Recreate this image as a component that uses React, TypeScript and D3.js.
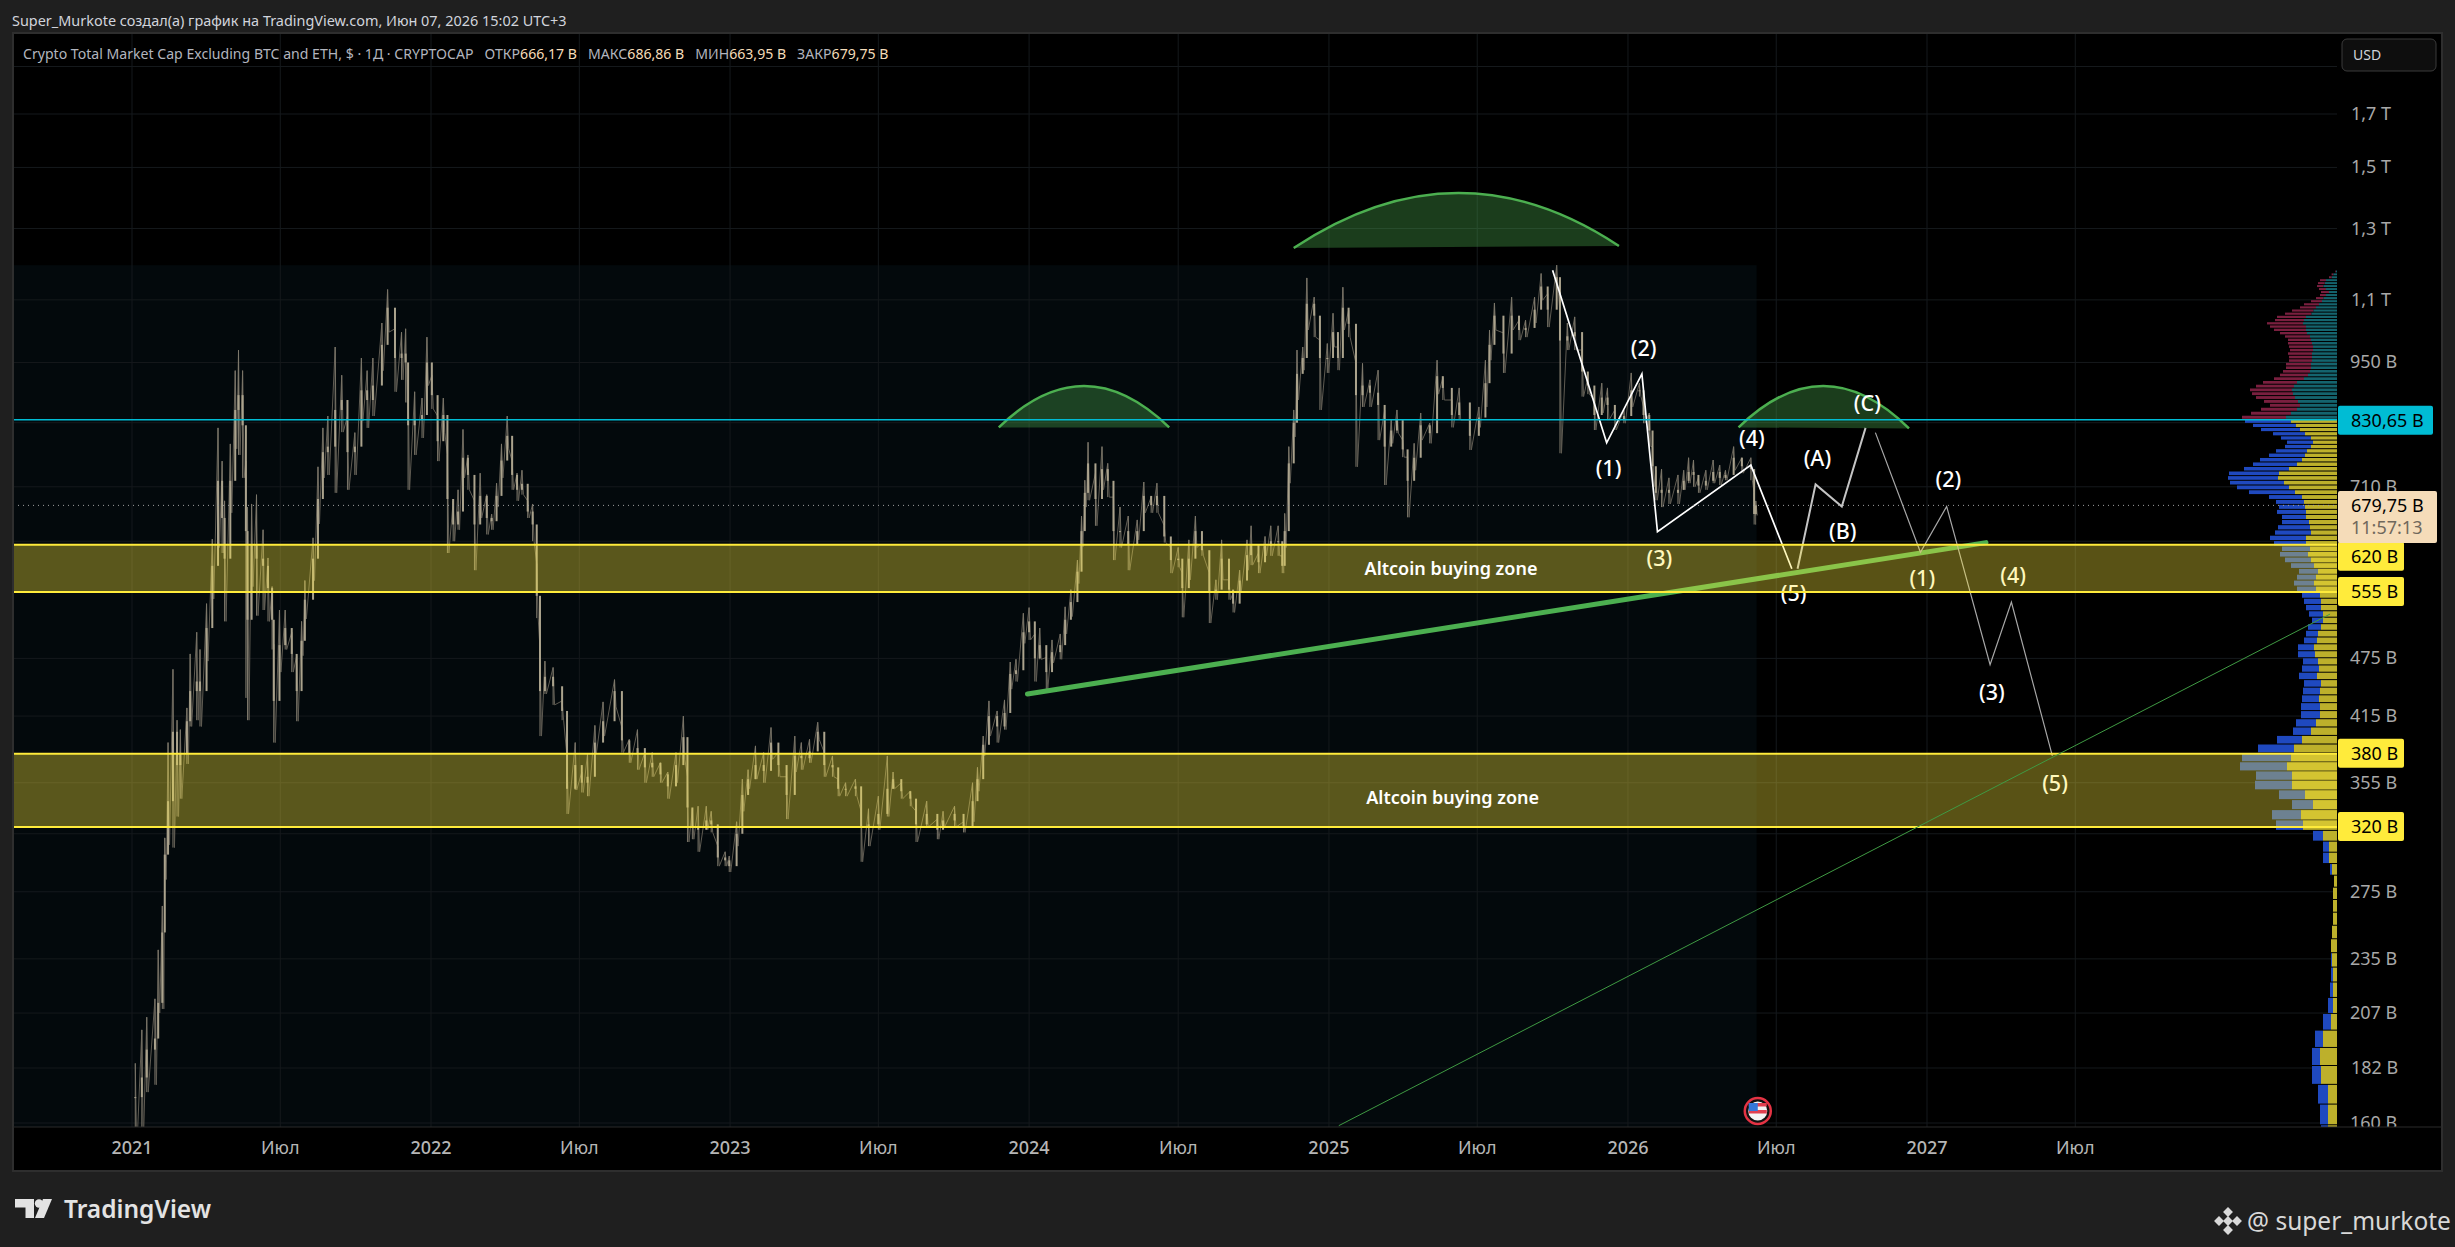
import React, { useEffect, useRef } from "react";
import * as d3 from "d3";

const WIDTH = 2455;
const HEIGHT = 1247;

// price scale (log) and time scale calibration
const priceDomain = [160, 1700];
const timeDomain = ["2021-01-01", "2027-01-01"];
const lastBarDay = 1982;

const priceTicks = [1700, 1500, 1300, 1100, 950, 710, 475, 415, 355, 275, 235, 207, 182, 160];
const hiddenGridPrices = [1900, 825, 625, 315];
const timeTickDates = ["2021-01-01", "2021-07-01", "2022-01-01", "2022-07-01", "2023-01-01", "2023-07-01", "2024-01-01", "2024-07-01", "2025-01-01", "2025-07-01", "2026-01-01", "2026-07-01", "2027-01-01", "2027-07-01"];
const timeTickLabels = ["2021", "Июл", "2022", "Июл", "2023", "Июл", "2024", "Июл", "2025", "Июл", "2026", "Июл", "2027", "Июл"];

// bars: days since 2021-01-01
const barDays = [
  4, 12, 18, 28, 32, 37, 40, 44, 50, 55,
  59, 67, 71, 79, 83, 91, 98, 105, 110, 113,
  120, 126, 130, 135, 139, 141, 146, 152, 160, 166,
  171, 173, 180, 187, 195, 201, 207, 211, 221, 227,
  233, 239, 248, 256, 263, 272, 280, 287, 294, 305,
  312, 321, 329, 334, 337, 345, 354, 360, 366, 373,
  380, 385, 392, 398, 404, 410, 418, 425, 433, 439,
  445, 451, 458, 464, 470, 476, 483, 489, 494, 498,
  504, 514, 525, 531, 541, 549, 556, 565, 575, 589,
  598, 607, 617, 626, 635, 645, 654, 664, 673, 678,
  684, 691, 701, 707, 715, 724, 729, 738, 745, 752,
  761, 771, 780, 789, 799, 809, 817, 827, 837, 845,
  855, 862, 871, 883, 890, 899, 911, 922, 929, 939,
  950, 957, 970, 983, 990, 1004, 1015, 1026, 1032, 1039,
  1046, 1056, 1065, 1072, 1079, 1088, 1095, 1102, 1108, 1116,
  1123, 1133, 1139, 1146, 1154, 1159, 1163, 1167, 1176, 1184,
  1191, 1198, 1206, 1216, 1227, 1235, 1244, 1251, 1260, 1268,
  1277, 1282, 1290, 1298, 1306, 1315, 1323, 1330, 1339, 1344,
  1352, 1361, 1366, 1375, 1383, 1390, 1399, 1404, 1407, 1412,
  1418, 1422, 1429, 1434, 1443, 1450, 1459, 1466, 1472, 1478,
  1485, 1494, 1502, 1511, 1521, 1529, 1537, 1544, 1551, 1557,
  1565, 1573, 1584, 1593, 1600, 1611, 1620, 1633, 1644, 1652,
  1657, 1663, 1674, 1684, 1693, 1701, 1712, 1720, 1728, 1739,
  1743, 1752, 1761, 1770, 1777, 1785, 1794, 1801, 1810, 1821,
  1830, 1840, 1845, 1852, 1856, 1860, 1867, 1876, 1887, 1894,
  1900, 1906, 1912, 1921, 1930, 1938, 1945, 1955, 1965, 1976,
  1980, 1982,
];
const barHighs = [
  184, 199, 205, 214, 240, 266, 312, 390, 463, 411,
  402, 423, 480, 505, 485, 540, 628, 815, 754, 687,
  785, 932, 978, 932, 754, 677, 682, 697, 642, 601,
  562, 491, 532, 532, 505, 478, 518, 570, 630, 744,
  815, 838, 985, 922, 838, 806, 960, 932, 960, 1042,
  1127, 1028, 1020, 1028, 912, 887, 874, 1008, 922, 838,
  874, 765, 687, 705, 812, 765, 687, 733, 697, 666,
  716, 785, 838, 754, 733, 738, 687, 682, 593, 485,
  472, 465, 430, 377, 390, 364, 380, 406, 429, 452,
  404, 393, 402, 381, 381, 372, 364, 381, 415, 360,
  334, 336, 336, 332, 306, 302, 299, 324, 358, 366,
  387, 381, 404, 381, 360, 396, 390, 393, 409, 381,
  378, 358, 355, 358, 332, 334, 344, 378, 364, 355,
  348, 332, 340, 326, 332, 336, 324, 355, 368, 396,
  430, 420, 431, 471, 474, 528, 535, 503, 510, 476,
  496, 503, 536, 558, 598, 663, 721, 788, 733, 780,
  750, 693, 677, 663, 657, 718, 693, 716, 648, 616,
  616, 580, 627, 663, 622, 580, 571, 627, 571, 554,
  584, 627, 648, 608, 632, 648, 648, 604, 667, 780,
  850, 978, 985, 1158, 1107, 1001, 993, 1066, 985, 1133,
  1074, 948, 948, 912, 933, 850, 830, 850, 792, 761,
  786, 844, 824, 955, 917, 870, 895, 830, 856, 955,
  1025, 1092, 1018, 1107, 1049, 1049, 1107, 1170, 1116, 1193,
  1066, 1042, 1057, 978, 917, 870, 905, 895, 850, 850,
  927, 905, 856, 844, 780, 738, 740, 725, 730, 738,
  760, 756, 725, 738, 756, 747, 738, 780, 760, 760,
  700, 686.86,
];
const barLows = [
  150, 152, 172, 175, 207, 209, 283, 307, 305, 328,
  342, 371, 405, 411, 405, 472, 546, 616, 608, 518,
  668, 776, 765, 725, 433, 411, 562, 525, 532, 518,
  485, 390, 460, 485, 460, 410, 478, 521, 570, 651,
  725, 730, 700, 807, 705, 730, 828, 815, 838, 932,
  1020, 887, 912, 865, 705, 765, 796, 900, 852, 754,
  806, 608, 625, 642, 725, 705, 584, 660, 635, 642,
  677, 725, 776, 705, 687, 697, 660, 625, 522, 396,
  437, 426, 411, 330, 349, 347, 344, 380, 396, 424,
  381, 372, 366, 355, 360, 355, 342, 355, 375, 309,
  311, 302, 318, 316, 292, 292, 288, 306, 332, 350,
  358, 355, 375, 360, 326, 364, 366, 372, 393, 360,
  360, 344, 344, 344, 295, 306, 318, 328, 350, 342,
  336, 309, 320, 311, 320, 320, 316, 324, 348, 378,
  396, 390, 402, 442, 450, 492, 496, 450, 474, 442,
  470, 474, 503, 524, 566, 617, 677, 688, 648, 705,
  693, 598, 616, 584, 627, 668, 668, 668, 623, 580,
  588, 523, 571, 616, 604, 516, 545, 571, 545, 529,
  554, 584, 591, 580, 604, 604, 604, 580, 616, 716,
  798, 870, 933, 1025, 1008, 850, 927, 985, 933, 1025,
  1008, 744, 856, 856, 792, 713, 786, 805, 761, 661,
  738, 792, 786, 882, 870, 816, 830, 774, 816, 856,
  955, 1025, 927, 1025, 1001, 1008, 1042, 1099, 1032, 1125,
  768, 978, 978, 877, 882, 811, 844, 830, 811, 824,
  856, 877, 824, 780, 710, 688, 677, 682, 682, 705,
  716, 710, 700, 705, 716, 713, 721, 738, 733, 721,
  650, 663.95,
];
const barCloses = [
  170, 178, 190, 195, 212, 250, 300, 340, 400, 370,
  380, 410, 440, 450, 440, 510, 590, 720, 660, 600,
  720, 850, 880, 820, 640, 520, 620, 600, 590, 560,
  520, 430, 490, 510, 480, 440, 495, 545, 600, 690,
  770, 780, 850, 870, 770, 780, 890, 870, 900, 990,
  1080, 960, 970, 950, 820, 830, 840, 950, 880, 790,
  840, 690, 650, 670, 760, 730, 650, 695, 660, 655,
  695, 755, 800, 730, 705, 715, 670, 650, 550, 440,
  455, 445, 420, 350, 370, 355, 360, 390, 410, 440,
  392, 380, 385, 368, 372, 362, 352, 370, 395, 335,
  320, 318, 325, 322, 298, 296, 292, 315, 345, 358,
  370, 365, 390, 370, 345, 378, 376, 382, 400, 370,
  368, 350, 350, 352, 320, 322, 330, 350, 358, 348,
  342, 322, 330, 318, 325, 330, 320, 340, 358, 388,
  415, 405, 418, 458, 462, 505, 518, 475, 490, 460,
  482, 490, 520, 542, 582, 640, 700, 750, 690, 740,
  720, 640, 640, 620, 640, 695, 680, 695, 632, 598,
  600, 560, 600, 640, 612, 555, 558, 600, 558, 540,
  570, 605, 620, 595, 618, 625, 625, 590, 640, 750,
  825, 925, 960, 1090, 1060, 960, 960, 1020, 960, 1080,
  1040, 880, 900, 885, 860, 780, 810, 830, 775, 720,
  760, 820, 805, 920, 895, 840, 865, 800, 835, 905,
  990, 1060, 970, 1060, 1025, 1030, 1075, 1135, 1075, 1160,
  1000, 1010, 1020, 930, 900, 840, 875, 860, 830, 838,
  890, 890, 840, 810, 745, 700, 705, 700, 705, 720,
  735, 730, 712, 720, 735, 725, 730, 760, 745, 740,
  666.17, 679.75,
];

const vpRowStep = 7.9;
const vpSplitPrice = 830.65;
const vpUpperRows = 44;
const vpUp = [
  1, 3.7, 5.3, 11, 12.3, 13.7, 11, 8, 11, 13.7, 15, 18, 21, 23.7, 25.7, 31, 33, 34, 31, 31, 30, 27,
  26, 25, 24, 24, 25, 25, 25, 26, 26, 27, 29, 33, 40, 43, 45, 44, 42, 39, 37, 40, 46, 51,
  46, 41, 37, 32, 26, 24, 26, 30, 32, 35, 40, 48, 58, 59, 53, 48, 42, 35, 33, 32, 31, 31, 28, 27, 26, 31, 31,
  27, 29, 26, 23, 19, 21, 23, 21,
  17, 16, 16, 14, 14, 16, 19, 20, 23, 22, 19, 18, 20, 16, 17, 18, 17, 17, 21, 26, 35, 43,
  46, 50, 45, 45, 32, 24, 36, 34,
  14, 8, 8, 5, 3, 4, 4, 4, 5, 6, 5, 4, 4, 4, 6, 14, 17, 16, 9, 9, 9,
];
const vpDown = [
  0.7, 1.7, 2.7, 6, 6.7, 6.3, 7, 8, 6, 7.3, 11, 15, 16, 21.3, 26.3, 29, 29, 36, 36, 32, 27, 25,
  23, 24, 24, 23, 24, 23, 23, 25, 25, 27, 28, 30, 34, 38, 42, 41, 39, 34, 30, 36, 40, 44,
  46, 43, 39, 32, 30, 26, 26, 31, 36, 42, 44, 45, 50, 50, 54, 52, 46, 33, 28, 26, 29, 24, 27, 32, 36, 36, 32,
  28, 28, 26, 23, 19, 19, 20, 19,
  18, 17, 15, 14, 11, 13, 12, 13, 16, 17, 15, 17, 18, 17, 17, 17, 19, 19, 20, 18, 25, 36,
  49, 47, 36, 37, 26, 21, 29, 27,
  10, 6, 6, 2, 0, 0, 0, 0, 0, 0, 1, 2, 3, 5, 8, 8, 8, 9, 10, 8, 7,
];

// drawings, day offsets and prices
const zoneTops = [620, 380];
const zoneBottoms = [555, 320];
const zoneLabelDays = [1610, 1612];
const zoneLabelPrices = [587, 343];
const shadeEndDay = 1983;
const shadeTopPrice = 1193;
const levelPrice = 830.65;
const lastPrice = 679.75;

const arcStartDays = [1058, 1418, 1961];
const arcEndDays = [1266, 1815, 2169];
const arcPeakDays = [1162, 1618, 2065];
const arcStartPrices = [816, 1242, 816];
const arcEndPrices = [816, 1248, 814];
const arcPeakPrices = [899, 1413, 899];

const trendDays = [1093, 2263];
const trendPrices = [437, 623];
const longTrendDays = [1473, 2683];
const longTrendPrices = [159, 527];

const waveOneDays = [1734, 1800, 1843, 1862, 1976, 2026];
const waveOnePrices = [1179, 787, 925, 639, 747, 586];
const waveTwoDays = [2033, 2055, 2087, 2116];
const waveTwoPrices = [586, 714, 678, 815];
const waveThreeDays = [2128, 2183, 2215, 2268, 2294, 2344];
const waveThreePrices = [806, 609, 678, 468, 542, 378];

const waveLabels = ["(1)", "(2)", "(3)", "(4)", "(5)", "(A)", "(B)", "(C)", "(1)", "(2)", "(3)", "(4)", "(5)"];
const waveLabelDays = [1801, 1844, 1863, 1976, 2027, 2056, 2087, 2117, 2184, 2216, 2269, 2295, 2346];
const waveLabelPrices = [738, 978, 598, 792, 551, 756, 637, 860, 571, 719, 437, 575, 353];

const priceTags = [
  { price: 620, label: "620 B", shift: 12 },
  { price: 555, label: "555 B", shift: 0 },
  { price: 380, label: "380 B", shift: 0 },
  { price: 320, label: "320 B", shift: 0 },
];

const legendParts = [
  { text: "ОТКР", value: "666,17 B" },
  { text: "МАКС", value: "686,86 B" },
  { text: "МИН", value: "663,95 B" },
  { text: "ЗАКР", value: "679,75 B" },
];

const FONT = "'Noto Sans', sans-serif";

const priceLabel = (v: number) =>
  v >= 1000 ? `${(v / 1000).toFixed(1).replace(".", ",")} T` : `${v} B`;

const App: React.FC = () => {
  const svgRef = useRef<SVGSVGElement | null>(null);

  useEffect(() => {
    if (!svgRef.current) return;
    const root = d3.select(svgRef.current);
    root.selectAll("*").remove();

    const frame = { left: 13, top: 33, right: 2442, bottom: 1171 };
    const paneRight = 2337;
    const paneBottom = 1127;

    const x = d3
      .scaleTime()
      .domain(timeDomain.map(d => new Date(d + "T00:00:00")))
      .range([132, 1927]);
    const y = d3.scaleLog().domain(priceDomain).range([1123, 114]);
    const start = new Date(timeDomain[0] + "T00:00:00");
    const xd = (day: number) => x(d3.timeDay.offset(start, day));

    root.append("rect").attr("width", WIDTH).attr("height", HEIGHT).attr("fill", "#1f1f1f");
    root
      .append("rect")
      .attr("x", frame.left)
      .attr("y", frame.top)
      .attr("width", frame.right - frame.left)
      .attr("height", frame.bottom - frame.top)
      .attr("fill", "#000")
      .attr("stroke", "#2e2e2e")
      .attr("stroke-width", 2);

    root
      .append("defs")
      .append("clipPath")
      .attr("id", "pane")
      .append("rect")
      .attr("x", frame.left + 1)
      .attr("y", frame.top + 1)
      .attr("width", paneRight - frame.left - 1)
      .attr("height", paneBottom - frame.top - 1);

    const pane = root.append("g").attr("clip-path", "url(#pane)");

    // shaded history block
    pane
      .append("rect")
      .attr("x", frame.left)
      .attr("y", y(shadeTopPrice))
      .attr("width", xd(shadeEndDay) - frame.left)
      .attr("height", paneBottom - y(shadeTopPrice))
      .attr("fill", "#03090c");

    // grid
    pane
      .selectAll("line.h")
      .data([...priceTicks, ...hiddenGridPrices])
      .join("line")
      .attr("x1", frame.left)
      .attr("x2", paneRight)
      .attr("y1", d => y(d))
      .attr("y2", d => y(d))
      .attr("stroke", "#15191c")
      .attr("stroke-width", 1);
    pane
      .selectAll("line.v")
      .data(timeTickDates)
      .join("line")
      .attr("x1", d => x(new Date(d + "T00:00:00")))
      .attr("x2", d => x(new Date(d + "T00:00:00")))
      .attr("y1", frame.top)
      .attr("y2", paneBottom)
      .attr("stroke", "#15191c")
      .attr("stroke-width", 1);

    // volume profile
    const vpWidth = d3.scaleLinear().domain([0, 110]).range([0, 110]);
    const vpTop = vpSplitPrice + vpUpperRows * vpRowStep;
    const rowTop = (i: number) => y(vpTop - i * vpRowStep);
    const rowH = (i: number) => Math.max(1.6, rowTop(i + 1) - rowTop(i) - 1);
    const profile = pane.append("g");
    vpUp.forEach((up, i) => {
      const upper = i < vpUpperRows;
      profile
        .append("rect")
        .attr("x", paneRight - vpWidth(up))
        .attr("y", rowTop(i))
        .attr("width", vpWidth(up))
        .attr("height", rowH(i))
        .attr("fill", upper ? "#14646e" : "#bdb02b");
      profile
        .append("rect")
        .attr("x", paneRight - vpWidth(up) - vpWidth(vpDown[i]))
        .attr("y", rowTop(i))
        .attr("width", vpWidth(vpDown[i]))
        .attr("height", rowH(i))
        .attr("fill", upper ? "#7a1f3f" : "#1f49bf");
    });

    // candles, thin zigzag for the wick noise then wicks and bodies
    const candles = pane.append("g");
    const zig: [number, number][] = [];
    barDays.forEach((d, i) => {
      zig.push([xd(d), y(barHighs[i])]);
      zig.push([xd(d) + 1.5, y(barLows[i])]);
    });
    candles
      .append("path")
      .attr("d", d3.line()(zig) as string)
      .attr("fill", "none")
      .attr("stroke", "#5f5b52")
      .attr("stroke-width", 1);
    candles
      .selectAll("line")
      .data(barDays)
      .join("line")
      .attr("x1", d => xd(d))
      .attr("x2", d => xd(d))
      .attr("y1", (_, i) => y(barHighs[i]))
      .attr("y2", (_, i) => y(barLows[i]))
      .attr("stroke", "#7d786b")
      .attr("stroke-width", 1);
    candles
      .selectAll("rect")
      .data(barDays)
      .join("rect")
      .attr("x", d => xd(d) - 1)
      .attr("y", (_, i) => y(Math.max(barCloses[i], i ? barCloses[i - 1] : barCloses[i])))
      .attr("width", 2)
      .attr("height", (_, i) =>
        Math.max(1, Math.abs(y(barCloses[i]) - y(i ? barCloses[i - 1] : barCloses[i])))
      )
      .attr("fill", "#aba38d");

    // trend line goes under the zones so they tint it
    pane
      .append("line")
      .attr("x1", xd(trendDays[0]))
      .attr("y1", y(trendPrices[0]))
      .attr("x2", xd(trendDays[1]))
      .attr("y2", y(trendPrices[1]))
      .attr("stroke", "#4caf50")
      .attr("stroke-width", 5)
      .attr("stroke-linecap", "round");

    const drawWave = (days: number[], prices: number[], color: string, w: number) => {
      const pts = days.map((d, i) => [xd(d), y(prices[i])] as [number, number]);
      pane
        .append("path")
        .attr("d", d3.line()(pts) as string)
        .attr("fill", "none")
        .attr("stroke", color)
        .attr("stroke-width", w);
    };
    drawWave(waveOneDays, waveOnePrices, "#ffffff", 1.7);
    drawWave(waveTwoDays, waveTwoPrices, "#c4c4c4", 2);
    drawWave(waveThreeDays, waveThreePrices, "#a8a8a8", 1.2);

    // arcs
    arcStartDays.forEach((d0, i) => {
      const x0 = xd(d0);
      const y0 = y(arcStartPrices[i]);
      const x1 = xd(arcEndDays[i]);
      const y1 = y(arcEndPrices[i]);
      const cx = xd(arcPeakDays[i]);
      const cy = 2 * y(arcPeakPrices[i]) - (y0 + y1) / 2;
      const curve = d3.path();
      curve.moveTo(x0, y0);
      curve.quadraticCurveTo(cx, cy, x1, y1);
      const chord = d3.path();
      chord.moveTo(x0, y0);
      chord.quadraticCurveTo(cx, cy, x1, y1);
      chord.closePath();
      pane.append("path").attr("d", chord.toString()).attr("fill", "rgba(76,175,80,0.35)");
      pane
        .append("path")
        .attr("d", curve.toString())
        .attr("fill", "none")
        .attr("stroke", "#4caf50")
        .attr("stroke-width", 2.5);
    });

    pane
      .selectAll("text.wave")
      .data(waveLabels)
      .join("text")
      .attr("x", (_, i) => xd(waveLabelDays[i]) + 1)
      .attr("y", (_, i) => y(waveLabelPrices[i]) - 2.5)
      .attr("text-anchor", "middle")
      .attr("dominant-baseline", "central")
      .attr("font-family", FONT)
      .attr("font-weight", 500)
      .attr("font-size", 21.5)
      .attr("fill", "#fff")
      .text(d => d);

    // buying zones
    zoneTops.forEach((top, i) => {
      const yt = y(top);
      const yb = y(zoneBottoms[i]);
      pane
        .append("rect")
        .attr("x", frame.left)
        .attr("y", yt)
        .attr("width", paneRight - frame.left)
        .attr("height", yb - yt)
        .attr("fill", "rgba(255,235,59,0.35)");
      [yt, yb].forEach(v =>
        pane
          .append("line")
          .attr("x1", frame.left)
          .attr("x2", paneRight)
          .attr("y1", v)
          .attr("y2", v)
          .attr("stroke", "#ffeb3b")
          .attr("stroke-width", 2)
      );
      pane
        .append("text")
        .attr("x", xd(zoneLabelDays[i]))
        .attr("y", y(zoneLabelPrices[i]))
        .attr("text-anchor", "middle")
        .attr("dominant-baseline", "central")
        .attr("font-family", FONT)
        .attr("font-weight", 600)
        .attr("font-size", 18)
        .attr("fill", "#fff")
        .text("Altcoin buying zone");
    });

    // long thin trend line sits over the profile
    pane
      .append("line")
      .attr("x1", xd(longTrendDays[0]))
      .attr("y1", y(longTrendPrices[0]))
      .attr("x2", xd(longTrendDays[1]))
      .attr("y2", y(longTrendPrices[1]))
      .attr("stroke", "#3f9a43")
      .attr("stroke-width", 1);

    pane
      .append("line")
      .attr("x1", frame.left)
      .attr("x2", paneRight)
      .attr("y1", y(levelPrice))
      .attr("y2", y(levelPrice))
      .attr("stroke", "#00bcd4")
      .attr("stroke-width", 1.5);
    pane
      .append("line")
      .attr("x1", frame.left)
      .attr("x2", paneRight)
      .attr("y1", y(lastPrice))
      .attr("y2", y(lastPrice))
      .attr("stroke", "#a0a0a0")
      .attr("stroke-width", 1)
      .attr("stroke-dasharray", "1 4");

    // event flag on the time line
    const flag = root.append("g").attr("transform", `translate(${xd(lastBarDay) + 2},1111)`);
    flag.append("circle").attr("r", 13).attr("fill", "#111").attr("stroke", "#e53344").attr("stroke-width", 2.5);
    flag.append("circle").attr("r", 9.5).attr("fill", "#f4f4f4");
    flag.append("rect").attr("x", -9).attr("y", -8).attr("width", 18).attr("height", 3.5).attr("fill", "#e04050");
    flag.append("rect").attr("x", -9).attr("y", -1).attr("width", 18).attr("height", 3.5).attr("fill", "#e04050");
    flag.append("rect").attr("x", -9).attr("y", -8).attr("width", 9).attr("height", 8).attr("fill", "#3577d8");

    // price axis
    root
      .selectAll("text.price")
      .data(priceTicks)
      .join("text")
      .attr("x", d => paneRight + (d >= 1000 || d === 182 ? 14 : 13))
      .attr("y", d => y(d) - 1)
      .attr("dominant-baseline", "central")
      .attr("font-family", FONT)
      .attr("font-size", 18)
      .attr("fill", "#a8a8a8")
      .text(d => priceLabel(d));

    root
      .append("rect")
      .attr("x", paneRight)
      .attr("y", paneBottom)
      .attr("width", frame.right - paneRight - 1)
      .attr("height", frame.bottom - paneBottom - 1)
      .attr("fill", "#000");
    root
      .append("line")
      .attr("x1", frame.left)
      .attr("x2", frame.right)
      .attr("y1", paneBottom)
      .attr("y2", paneBottom)
      .attr("stroke", "#2a2a2a")
      .attr("stroke-width", 1);

    const tag = (
      top: number,
      w: number,
      h: number,
      fill: string,
      label: string,
      color = "#000"
    ) => {
      root
        .append("rect")
        .attr("x", paneRight + 1)
        .attr("y", top)
        .attr("width", w)
        .attr("height", h)
        .attr("rx", 2)
        .attr("fill", fill);
      root
        .append("text")
        .attr("x", paneRight + 14)
        .attr("y", top + 14)
        .attr("dominant-baseline", "central")
        .attr("font-family", FONT)
        .attr("font-size", 18)
        .attr("fill", color)
        .text(label);
    };
    tag(y(levelPrice) - 14, 95, 29, "#00bcd4", "830,65 B");
    priceTags.forEach(t => tag(y(t.price) - 15 + t.shift, 66, 29, "#ffeb3b", t.label));
    tag(491, 99, 52, "#f5dcb9", "679,75 B");
    root
      .append("text")
      .attr("x", paneRight + 14)
      .attr("y", 527)
      .attr("dominant-baseline", "central")
      .attr("font-family", FONT)
      .attr("font-size", 18)
      .attr("fill", "#70685c")
      .text("11:57:13");

    root
      .append("rect")
      .attr("x", 2342)
      .attr("y", 39)
      .attr("width", 94)
      .attr("height", 32)
      .attr("rx", 5)
      .attr("fill", "#0e0e0e")
      .attr("stroke", "#3a3a3a");
    root
      .append("text")
      .attr("x", 2353)
      .attr("y", 54)
      .attr("dominant-baseline", "central")
      .attr("font-family", FONT)
      .attr("font-size", 14)
      .attr("fill", "#d1d4dc")
      .text("USD");

    // time axis
    root
      .selectAll("text.time")
      .data(timeTickLabels)
      .join("text")
      .attr("x", (_, i) => x(new Date(timeTickDates[i] + "T00:00:00")))
      .attr("y", 1147)
      .attr("text-anchor", "middle")
      .attr("dominant-baseline", "central")
      .attr("font-family", FONT)
      .attr("font-weight", (_, i) => (i % 2 ? 400 : 500))
      .attr("font-size", 18)
      .attr("fill", "#b6b6b6")
      .text(d => d);

    // header and legend
    root
      .append("text")
      .attr("x", 12)
      .attr("y", 20)
      .attr("dominant-baseline", "central")
      .attr("font-family", FONT)
      .attr("font-size", 14.45)
      .attr("fill", "#d1d4dc")
      .text("Super_Murkote создал(а) график на TradingView.com, Июн 07, 2026 15:02 UTC+3");

    const legend = root
      .append("text")
      .attr("x", 23)
      .attr("y", 53)
      .attr("dominant-baseline", "central")
      .attr("font-family", FONT)
      .attr("font-size", 14.1)
      .attr("fill", "#b2b5be");
    legend.append("tspan").text("Crypto Total Market Cap Excluding BTC and ETH, $ · 1Д · CRYPTOCAP");
    legendParts.forEach(p => {
      legend.append("tspan").attr("dx", 11).text(p.text);
      legend.append("tspan").attr("fill", "#f5dcb9").text(p.value);
    });

    // footer
    const logo = root.append("g").attr("fill", "#e3e3e3");
    logo.append("path").attr("d", "M15 1199h19v19h-8.5v-10.5H15z");
    logo.append("circle").attr("cx", 39).attr("cy", 1203.5).attr("r", 4.2);
    logo.append("path").attr("d", "M43 1199h9l-8 19h-9z");
    root
      .append("text")
      .attr("x", 64)
      .attr("y", 1208)
      .attr("dominant-baseline", "central")
      .attr("font-family", FONT)
      .attr("font-weight", 600)
      .attr("font-size", 24.5)
      .attr("fill", "#e3e3e3")
      .text("TradingView");

    const diamond = root.append("g").attr("fill", "#d8d8d8").attr("transform", "translate(2228,1221)");
    [[0, -9], [-9, 0], [9, 0], [0, 9], [0, 0]].forEach(([dx, dy]) =>
      diamond
        .append("rect")
        .attr("x", dx - 3.5)
        .attr("y", dy - 3.5)
        .attr("width", 7)
        .attr("height", 7)
        .attr("transform", `rotate(45 ${dx} ${dy})`)
    );
    root
      .append("text")
      .attr("x", 2247)
      .attr("y", 1220)
      .attr("dominant-baseline", "central")
      .attr("font-family", FONT)
      .attr("font-size", 24.5)
      .attr("fill", "#d8d8d8")
      .text("@ super_murkote");
  }, []);

  return (
    <svg
      ref={svgRef}
      width={WIDTH}
      height={HEIGHT}
      style={{ position: "fixed", left: 0, top: 0, display: "block" }}
    />
  );
};

export default App;
